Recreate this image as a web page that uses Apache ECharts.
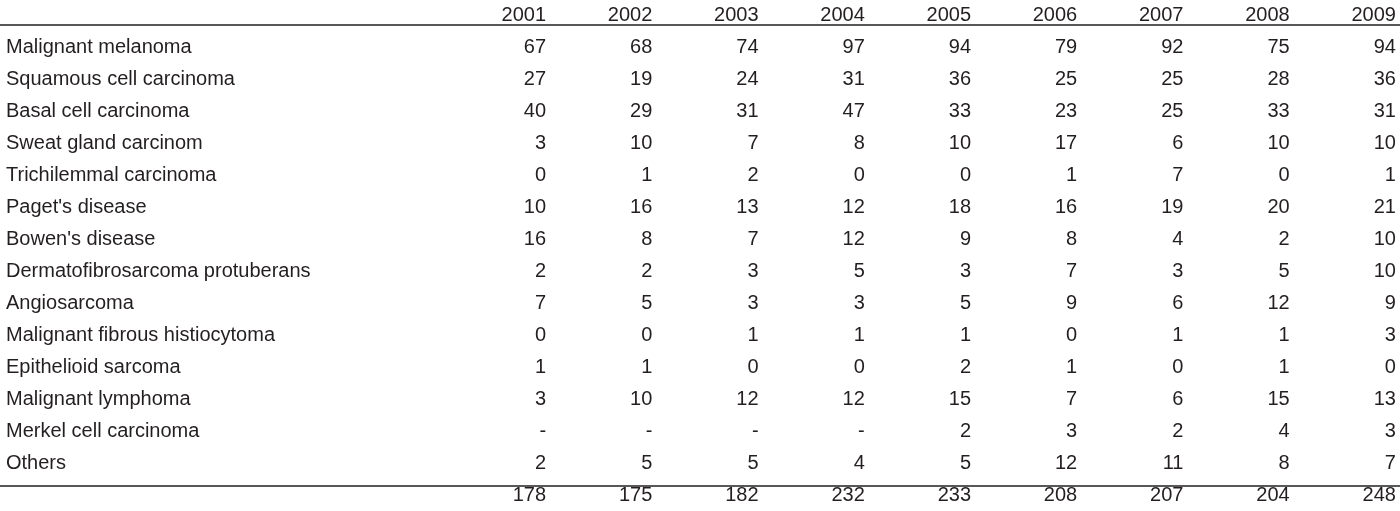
<!DOCTYPE html>
<html>
<head>
<meta charset="utf-8">
<script src="https://cdn.jsdelivr.net/npm/echarts@6/dist/echarts.min.js"></script>
<style>
  html, body { margin: 0; padding: 0; background: #fff; }
  #chart { width: 1400px; height: 511px; }
</style>
</head>
<body>
<div id="chart"></div>
<script>
// table data
const years = ['2001', '2002', '2003', '2004', '2005', '2006', '2007', '2008', '2009'];
const rowNames = [
  'Malignant melanoma', 'Squamous cell carcinoma', 'Basal cell carcinoma',
  'Sweat gland carcinom', 'Trichilemmal carcinoma', "Paget's disease",
  "Bowen's disease", 'Dermatofibrosarcoma protuberans', 'Angiosarcoma',
  'Malignant fibrous histiocytoma', 'Epithelioid sarcoma', 'Malignant lymphoma',
  'Merkel cell carcinoma', 'Others'
];
const melanoma     = [67, 68, 74, 97, 94, 79, 92, 75, 94];
const squamous     = [27, 19, 24, 31, 36, 25, 25, 28, 36];
const basal        = [40, 29, 31, 47, 33, 23, 25, 33, 31];
const sweatGland   = [3, 10, 7, 8, 10, 17, 6, 10, 10];
const trichilemmal = [0, 1, 2, 0, 0, 1, 7, 0, 1];
const paget        = [10, 16, 13, 12, 18, 16, 19, 20, 21];
const bowen        = [16, 8, 7, 12, 9, 8, 4, 2, 10];
const dfsp         = [2, 2, 3, 5, 3, 7, 3, 5, 10];
const angiosarcoma = [7, 5, 3, 3, 5, 9, 6, 12, 9];
const mfh          = [0, 0, 1, 1, 1, 0, 1, 1, 3];
const epithelioid  = [1, 1, 0, 0, 2, 1, 0, 1, 0];
const lymphoma     = [3, 10, 12, 12, 15, 7, 6, 15, 13];
const merkel       = ['-', '-', '-', '-', 2, 3, 2, 4, 3];
const others       = [2, 5, 5, 4, 5, 12, 11, 8, 7];
const totals       = [178, 175, 182, 232, 233, 208, 207, 204, 248];

const bodyRows = [melanoma, squamous, basal, sweatGland, trichilemmal, paget, bowen,
  dfsp, angiosarcoma, mfh, epithelioid, lymphoma, merkel, others];

// y categories: header, body rows, total
const yCats = ['hdr'].concat(rowNames, ['total']);
const yLabels = [''].concat(rowNames, ['']);

const cells = [];
years.forEach((y, c) => cells.push({ value: [c, 0], text: y }));
bodyRows.forEach((row, r) => row.forEach((v, c) => cells.push({ value: [c, r + 1], text: String(v) })));
totals.forEach((v, c) => cells.push({ value: [c, yCats.length - 1], text: String(v) }));

const FONT = 'Liberation Sans, Arial, sans-serif';
const INK = '#231f20';

const chart = echarts.init(document.getElementById('chart'));
chart.setOption({
  animation: false,
  grid: { left: 440, right: 4, top: -4, height: 519.5 },
  xAxis: {
    type: 'category', data: years, show: false
  },
  yAxis: {
    type: 'category', data: yCats, inverse: true,
    axisLine: { show: false }, axisTick: { show: false }, splitLine: { show: false },
    axisLabel: {
      align: 'left', margin: 434, fontSize: 20, fontFamily: FONT, color: INK,
      formatter: (v, i) => yLabels[i]
    }
  },
  series: [{
    type: 'scatter',
    symbolSize: 0,
    itemStyle: { opacity: 1 },
    data: cells,
    label: {
      show: true, position: 'inside', align: 'right', offset: [53, 0],
      fontSize: 20, fontFamily: FONT, color: INK, opacity: 1,
      formatter: p => p.data.text
    }
  }],
  graphic: [
    { type: 'line', shape: { x1: 0, y1: 25, x2: 1400, y2: 25 }, style: { stroke: INK, lineWidth: 1.5 } },
    { type: 'line', shape: { x1: 0, y1: 486, x2: 1400, y2: 486 }, style: { stroke: INK, lineWidth: 1.5 } }
  ]
});
</script>
</body>
</html>
